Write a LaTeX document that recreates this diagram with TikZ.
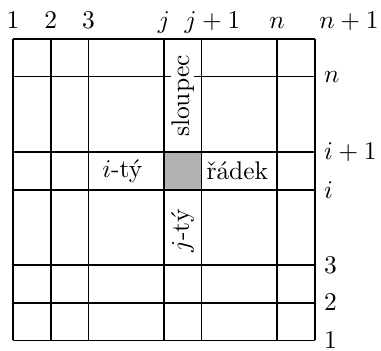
\documentclass[tikz,border=0pt]{standalone}
\usepackage{amsmath,amssymb}
\usepackage{tikz}
\usetikzlibrary{positioning}

\begin{document}
\begin{tikzpicture}[x=0.52cm,y=0.52cm,line width=0.7pt]
\useasboundingbox (-0.345,-0.27) rectangle (9.76,9.03);
\fill[gray!60] (4,4) rectangle (5,5);
\foreach \k in {0,1,2,4,5,7,8} {
  \draw (\k,0) -- (\k,8);
  \draw (0,\k) -- (8,\k);
}
% indexy sloupcu nahore
\foreach \x/\l [count=\c] in {0/1,1/2,2/3,4/j,5.29/j+1,7/n,8.91/n+1} {
  \node[anchor=base] (col\c) at (\x,8.27) {$\l$};
}
% indexy radku vpravo
\foreach \y/\l [count=\c] in {7/n,5/i+1,4/i,2/3,1/2,0/1} {
  \node[anchor=west] (row\c) at (8,\y) {$\l$};
}
\node (ity) at (2.9,4.5) {$i$-tý};
\node (radek) at (5.95,4.5) {řádek};
\node[rotate=90, fill=white, inner sep=0pt] (sloupec) at (4.5,6.48) {sloupec};
\node[rotate=90] (jty) at (4.5,2.9) {$j$-tý};
\end{tikzpicture}
\end{document}
